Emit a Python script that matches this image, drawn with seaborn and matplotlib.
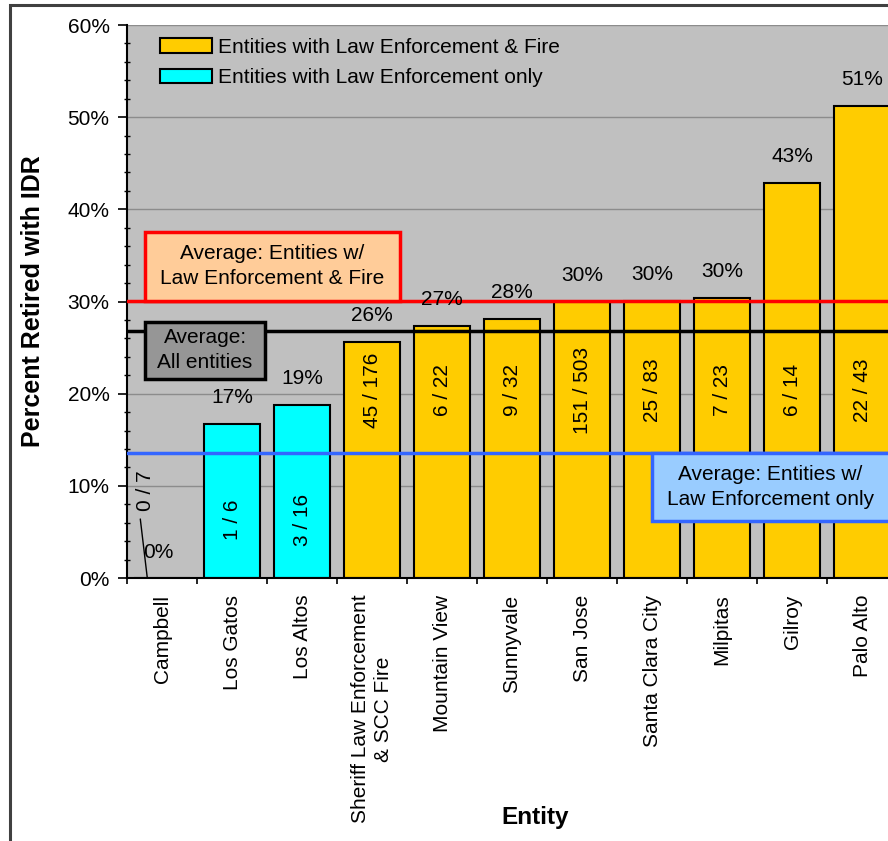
import matplotlib
matplotlib.use("Agg")
import matplotlib.pyplot as plt
import matplotlib.patches as mpatches
from matplotlib.ticker import FuncFormatter, MultipleLocator, FixedLocator
import pandas as pd
import seaborn as sns

# data
entities = ["Campbell", "Los Gatos", "Los Altos", "Sheriff Law Enforcement\n& SCC Fire",
            "Mountain View", "Sunnyvale", "San Jose", "Santa Clara City", "Milpitas",
            "Gilroy", "Palo Alto"]
pct_idr = [0.0, 16.7, 18.8, 25.6, 27.3, 28.1, 30.0, 30.1, 30.4, 42.9, 51.2]
counts = ["0 / 7", "1 / 6", "3 / 16", "45 / 176", "6 / 22", "9 / 32", "151 / 503",
          "25 / 83", "7 / 23", "6 / 14", "22 / 43"]
GRP_FIRE = "Entities with Law Enforcement & Fire"
GRP_LE = "Entities with Law Enforcement only"
groups = [GRP_LE, GRP_LE, GRP_LE] + [GRP_FIRE] * 8

avg_fire = 30.1
avg_all = 26.8
avg_le_only = 13.6

colors = {GRP_FIRE: "#FFCC00", GRP_LE: "#00FFFF"}

df = pd.DataFrame({"entity": entities, "pct": pct_idr, "group": groups})

sns.set_style("ticks")
plt.rcParams["font.family"] = ["Liberation Sans", "DejaVu Sans"]
for k in ["text.color", "axes.labelcolor", "xtick.color", "ytick.color"]:
    plt.rcParams[k] = "black"

FS = 15

fig = plt.figure(figsize=(8.88, 8.41), dpi=100)
ax = fig.add_axes([127 / 888, 263 / 841, 770 / 888, 553 / 841])
ax.set_facecolor("#C0C0C0")

sns.barplot(data=df, x="entity", y="pct", hue="group", hue_order=[GRP_FIRE, GRP_LE],
            palette=colors, saturation=1, dodge=False, width=0.81, edgecolor="black",
            linewidth=1.5, legend=False, ax=ax, zorder=2)

ax.set_xlim(-0.5, len(entities) - 0.5)
ax.set_ylim(0, 60)
ax.yaxis.set_major_locator(MultipleLocator(10))
ax.yaxis.set_minor_locator(MultipleLocator(2))
ax.yaxis.set_major_formatter(FuncFormatter(lambda v, p: f"{v:.0f}%"))
ax.grid(axis="y", which="major", color="#8C8C8C", lw=1.0)
ax.set_axisbelow(True)

ax.tick_params(axis="y", which="major", length=6.5, width=1.2, direction="out",
               pad=6, labelsize=FS)
ax.tick_params(axis="y", which="minor", length=4, width=1.0, direction="inout")
ax.set_xticks(range(len(entities)))
ax.set_xticklabels(entities, rotation=90, va="top", ha="center", multialignment="center")
for lab in ax.get_xticklabels():
    lab.set_linespacing(1.3)
ax.tick_params(axis="x", which="major", length=0, pad=12, labelsize=FS)
ax.xaxis.set_minor_locator(FixedLocator([i - 0.5 for i in range(len(entities) + 1)]))
ax.tick_params(axis="x", which="minor", length=4, width=1.2, direction="out")

for s in ["top", "right"]:
    ax.spines[s].set_visible(False)
for s in ["left", "bottom"]:
    ax.spines[s].set_color("black")
    ax.spines[s].set_linewidth(1.5)

ax.set_ylabel("Percent Retired with IDR", fontsize=18, fontweight="bold")
ax.yaxis.set_label_coords(-0.106, 0.5)
ax.set_xlabel("Entity", fontsize=17.5, fontweight="bold")
ax.xaxis.set_label_coords(0.53, -0.413)

# average lines, drawn over the bars
ax.axhline(avg_fire, color="#FF0000", lw=2.5, zorder=4)
ax.axhline(avg_all, color="black", lw=2.5, zorder=4)
ax.axhline(avg_le_only, color="#3366FF", lw=2.5, zorder=4)

# value labels
for i, (v, c) in enumerate(zip(pct_idr, counts)):
    if v == 0:
        ax.text(i - 0.05, 2.8, f"{v:.0f}%", ha="center", va="center", fontsize=FS, zorder=5)
        ax.text(i - 0.24, 9.5, c, rotation=90, ha="center", va="center", fontsize=FS, zorder=5)
        ax.plot([i - 0.31, i - 0.21], [6.4, 0], color="black", lw=1, zorder=5)
        continue
    ax.annotate(f"{v:.0f}%", (i, v), xytext=(0, 19), textcoords="offset points",
                ha="center", va="center", fontsize=FS, zorder=5)
    cy = 20.4 if v > 22 else 6.3
    ax.text(i, cy, c, rotation=90, ha="center", va="center", fontsize=FS, zorder=5)

# boxes naming the average lines
boxes = [
    (-0.24, avg_fire, 3.64, 7.4, "#FFCC99", "#FF0000", "Average: Entities w/\nLaw Enforcement & Fire"),
    (-0.24, 21.6, 1.71, 6.2, "#969696", "black", "Average:\nAll entities"),
    (7.0, 6.2, 3.7, 7.4, "#99CCFF", "#3366FF", "Average: Entities w/\nLaw Enforcement only"),
]
for x0, y0, w, h, fc, ec, txt in boxes:
    ax.add_patch(mpatches.Rectangle((x0, y0), w, h, facecolor=fc, edgecolor=ec, lw=2.5, zorder=6))
    tx = x0 + w / 2 if x0 + w < len(entities) - 0.5 else x0 + (len(entities) - 0.62 - x0) / 2
    ax.text(tx, y0 + h / 2, txt, ha="center", va="center", fontsize=FS,
            linespacing=1.4, zorder=7)

handles = [mpatches.Patch(facecolor=colors[g], edgecolor="black", lw=1.5, label=g)
           for g in [GRP_FIRE, GRP_LE]]
ax.legend(handles=handles, loc="upper left", bbox_to_anchor=(0.043, 0.977),
          frameon=False, fontsize=FS, handlelength=2.5, handleheight=0.67,
          handletextpad=0.29, labelspacing=0.54, borderpad=0, borderaxespad=0)

# outer chart frame
fig.patches.append(mpatches.Rectangle((10 / 888, -0.1), 1.5, 1.1 - 5 / 841, fill=False,
                                      edgecolor="#404040", lw=2.2, transform=fig.transFigure))

plt.savefig("out.png", dpi=100)
plt.close()
